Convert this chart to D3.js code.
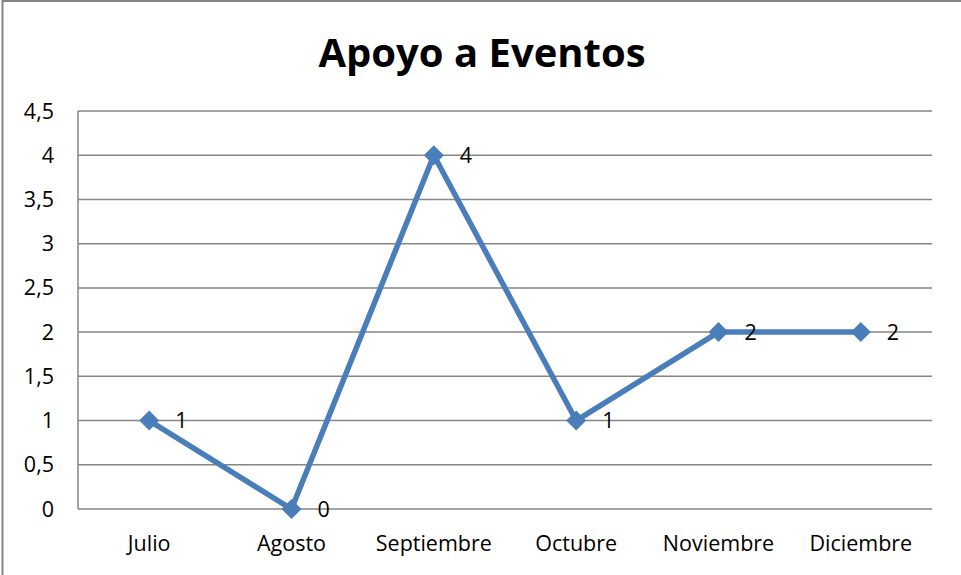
<!DOCTYPE html>
<html>
<head>
<meta charset="utf-8">
<script src="https://cdn.jsdelivr.net/npm/d3@7"></script>
<style>
  body { margin: 0; background: #fff; }
  svg { display: block; font-family: "Open Sans", "Liberation Sans", sans-serif; }
</style>
</head>
<body>
<div id="chart"></div>
<script>
// Chart data
const months = ['Julio', 'Agosto', 'Septiembre', 'Octubre', 'Noviembre', 'Diciembre'];
const eventos = [1, 0, 4, 1, 2, 2];
const yTicks = [0, 0.5, 1, 1.5, 2, 2.5, 3, 3.5, 4, 4.5];

const width = 961;
const height = 575;
const margin = { top: 111, right: 29, bottom: 66, left: 78 };

const svg = d3.select('#chart')
    .append('svg')
    .attr('width', width)
    .attr('height', height);

// Outer chart border
svg.append('rect')
    .attr('x', 2.5)
    .attr('y', 1)
    .attr('width', width + 10)
    .attr('height', height + 10)
    .attr('fill', 'none')
    .attr('stroke', '#868686')
    .attr('stroke-width', 2);

const x = d3.scaleBand()
    .domain(months)
    .range([margin.left, width - margin.right]);

const y = d3.scaleLinear()
    .domain([0, 4.5])
    .range([height - margin.bottom, margin.top]);

const fmt = d => String(d).replace('.', ',');

// Gridlines
svg.append('g')
    .selectAll('line')
    .data(yTicks)
    .join('line')
    .attr('x1', margin.left)
    .attr('x2', width - margin.right)
    .attr('y1', d => y(d))
    .attr('y2', d => y(d))
    .attr('stroke', '#868686')
    .attr('stroke-width', 1.5);

// Y axis line
svg.append('line')
    .attr('x1', margin.left)
    .attr('x2', margin.left)
    .attr('y1', y(4.5))
    .attr('y2', y(0))
    .attr('stroke', '#868686')
    .attr('stroke-width', 1.5);

// Y tick labels
svg.append('g')
    .selectAll('text')
    .data(yTicks)
    .join('text')
    .attr('x', 54)
    .attr('y', d => y(d))
    .attr('dy', '0.35em')
    .attr('text-anchor', 'end')
    .attr('font-size', 21.5)
    .attr('fill', '#000')
    .text(fmt);

// X labels
svg.append('g')
    .selectAll('text')
    .data(months)
    .join('text')
    .attr('x', d => x(d) + x.bandwidth() / 2)
    .attr('y', 551)
    .attr('text-anchor', 'middle')
    .attr('font-size', 21.5)
    .attr('fill', '#000')
    .text(d => d);

// Title
svg.append('text')
    .attr('x', 482)
    .attr('y', 67)
    .attr('text-anchor', 'middle')
    .attr('font-size', 40)
    .attr('font-weight', 'bold')
    .attr('fill', '#000')
    .text('Apoyo a Eventos');

const pts = months.map((m, i) => ({ m, v: eventos[i] }));

// Line
const line = d3.line()
    .x(d => x(d.m) + x.bandwidth() / 2)
    .y(d => y(d.v));

svg.append('path')
    .datum(pts)
    .attr('d', line)
    .attr('fill', 'none')
    .attr('stroke', '#4a7ebb')
    .attr('stroke-width', 5.5)
    .attr('stroke-linejoin', 'round');

// Diamond markers
svg.append('g')
    .selectAll('path')
    .data(pts)
    .join('path')
    .attr('transform', d => `translate(${x(d.m) + x.bandwidth() / 2},${y(d.v)})`)
    .attr('d', 'M0,-10L10,0L0,10L-10,0Z')
    .attr('fill', '#4a7ebb');

// Data labels
svg.append('g')
    .selectAll('text')
    .data(pts)
    .join('text')
    .attr('x', d => x(d.m) + x.bandwidth() / 2 + 26)
    .attr('y', d => y(d.v))
    .attr('dy', '0.35em')
    .attr('text-anchor', 'start')
    .attr('font-size', 21.5)
    .attr('fill', '#000')
    .text(d => d.v);
</script>
</body>
</html>
